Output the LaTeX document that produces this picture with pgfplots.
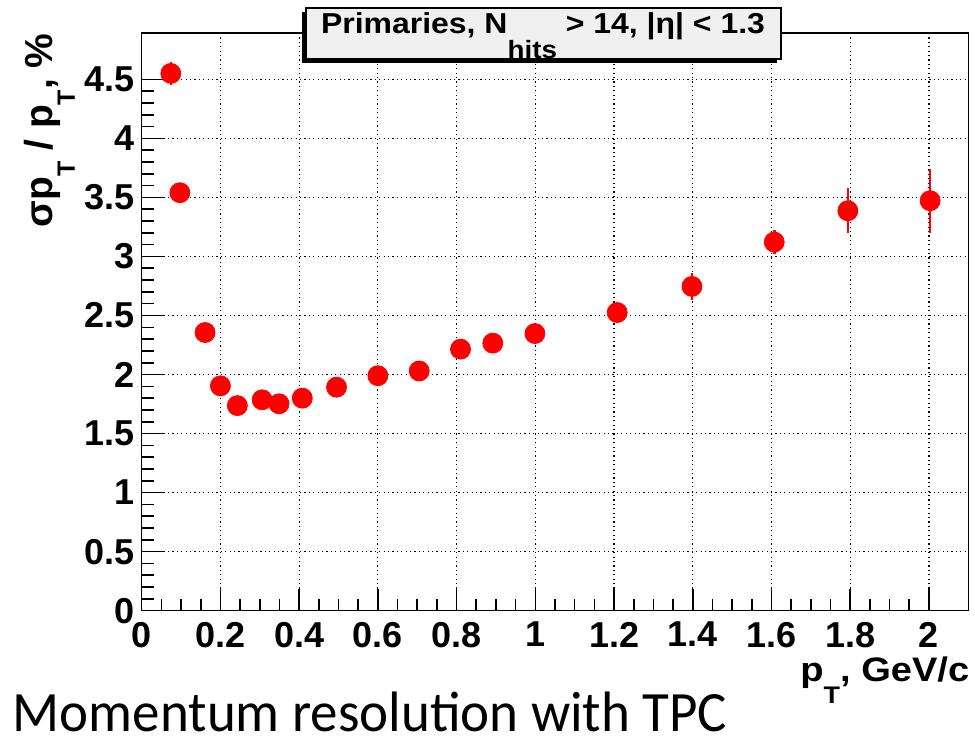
\documentclass[border=0pt]{standalone}
\usepackage{fontspec}
\setmainfont{Liberation Sans}
\newfontfamily\capfont{Carlito}
\usepackage{pgfplots}
\usepackage{pgfplotstable}
\pgfplotsset{compat=1.18}
\definecolor{boxgray}{RGB}{240,240,240}

% pT [GeV/c], sigma(pT)/pT [%], error
\pgfplotstableread{
x      y      e
0.074  4.55   0.10
0.097  3.54   0.03
0.161  2.356  0.03
0.200  1.904  0.03
0.243  1.737  0.03
0.306  1.786  0.03
0.349  1.752  0.03
0.408  1.800  0.03
0.495  1.893  0.03
0.600  1.990  0.03
0.705  2.030  0.03
0.810  2.215  0.03
0.892  2.266  0.03
0.999  2.347  0.04
1.208  2.525  0.08
1.398  2.746  0.115
1.607  3.122  0.105
1.794  3.387  0.19
2.003  3.472  0.27
}\resdata

% ROOT-style subscript: smaller and dropped well below the baseline
\newcommand{\lowsub}[2]{\raisebox{-11pt}{\fontsize{#1}{#1}\selectfont #2}}

\begin{document}
\begin{tikzpicture}[x=1pt,y=1pt]
\path[use as bounding box] (-70.85,-63.15) rectangle (416.65,305.35);
\begin{axis}[
  at={(0,0)}, anchor=south west,
  scale only axis, width=413.3pt, height=288.7pt,
  xmin=0, xmax=2.1, ymin=0, ymax=4.89,
  xtick={0,0.2,0.4,0.6,0.8,1,1.2,1.4,1.6,1.8,2},
  ytick={0,0.5,1,1.5,2,2.5,3,3.5,4,4.5},
  minor x tick num=3, minor y tick num=4,
  tick align=inside, tick pos=left,
  major tick length=11pt, minor tick length=6pt,
  grid=major,
  major grid style={black, line width=0.6pt, dash pattern=on 0.6pt off 1.6pt},
  axis line style={black, line width=0.8pt},
  every tick/.style={black, line width=0.8pt},
  /pgf/number format/assume math mode=true,
  ticklabel style={font=\fontsize{18}{18}\selectfont\bfseries, inner sep=1pt},
  xticklabel style={yshift=-4.5pt},
  yticklabel style={xshift=-2.3pt},
  clip=false,
]
\addplot[only marks, mark=*, red, mark size=5pt,
  error bars/.cd, y dir=both, y explicit,
  error bar style={red, line width=1.3pt}, error mark=none]
  table[x=x, y=y, y error=e] {\resdata};
\end{axis}

% header box with shadow
\fill[black] (80.15,273.85) rectangle (317.65,299.35);
\draw[black, line width=0.6pt, fill=boxgray] (82.15,275.85) rectangle (319.65,301.35);
\node[anchor=base, inner sep=0pt, xscale=1.11, font=\fontsize{14.4}{14.4}\selectfont\bfseries]
  at (200.65,288.5) {Primaries, N\raisebox{-12.3pt}{\fontsize{12.5}{12.5}\selectfont hits} > 14, |η| < 1.3};

% axis titles
\node[rotate=90, anchor=base east, inner sep=0pt, font=\fontsize{19.5}{19.5}\selectfont\bfseries]
  at (-44.35,288.8) {σp\lowsub{12.5}{T} / p\lowsub{12.5}{T}, \%};
\node[anchor=base east, inner sep=0pt, xscale=1.12, font=\fontsize{17}{17}\selectfont\bfseries]
  at (414,-35.3) {p\lowsub{12}{T}, GeV/c};

% caption
\node[anchor=base west, inner sep=0pt, xscale=0.965, font=\capfont\fontsize{28.5}{28.5}\selectfont]
  at (-64.6,-60.4) {Momentum resolution with TPC};
\end{tikzpicture}
\end{document}
